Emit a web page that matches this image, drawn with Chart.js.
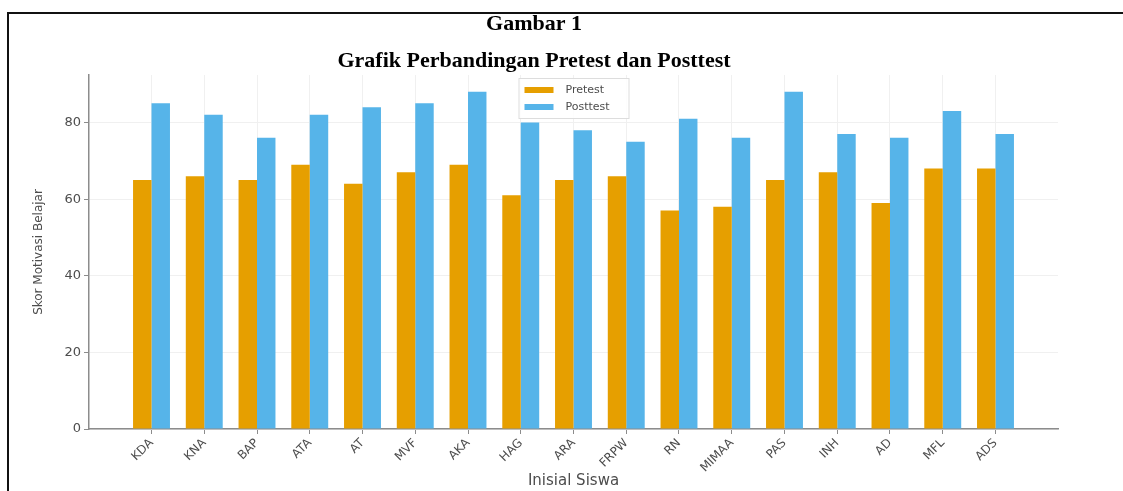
<!DOCTYPE html>
<html><head><meta charset="utf-8">
<script src="https://cdn.jsdelivr.net/npm/chart.js@4.4.1/dist/chart.umd.min.js"></script>
<style>html,body{margin:0;padding:0;background:#fff;} #wrap{width:1123px;height:491px;position:relative;} canvas{display:block;}</style>
</head><body><div id="wrap"><canvas id="c" width="1123" height="491"></canvas></div>
<script>
const titleLines = ['Gambar 1', 'Grafik Perbandingan Pretest dan Posttest'];
const categories = ['KDA','KNA','BAP','ATA','AT','MVF','AKA','HAG','ARA','FRPW','RN','MIMAA','PAS','INH','AD','MFL','ADS'];
const pretest  = [65,66,65,69,64,67,69,61,65,66,57,58,65,67,59,68,68];
const posttest = [85,82,76,82,84,85,88,80,78,75,81,76,88,77,76,83,77];
const yTicks = [0,20,40,60,80];
const seriesNames = ['Pretest','Posttest'];
const seriesColors = ['#E69F00','#56B4E9'];
const yTitle = 'Skor Motivasi Belajar';
const xTitle = 'Inisial Siswa';

const TEXT = '#4d4d4d';
const AXIS = '#8c8c8c';

const framePlugin = {
  id: 'framePlugin',
  beforeDraw(chart) {
    const ctx = chart.ctx;
    ctx.save();
    ctx.fillStyle = '#fff';
    ctx.fillRect(0, 0, chart.width, chart.height);
    ctx.strokeStyle = '#111';
    ctx.lineWidth = 2;
    ctx.beginPath();
    ctx.moveTo(8, chart.height);
    ctx.lineTo(8, 13);
    ctx.lineTo(chart.width, 13);
    ctx.stroke();
    ctx.fillStyle = '#000';
    ctx.textAlign = 'center';
    ctx.textBaseline = 'middle';
    ctx.font = 'bold 22px "Liberation Serif", "Times New Roman", serif';
    ctx.fillText(titleLines[0], 534, 24);
    ctx.fillText(titleLines[1], 534, 61);
    ctx.restore();
  }
};

const legendPlugin = {
  id: 'legendPlugin',
  afterDatasetsDraw(chart) {
    const ctx = chart.ctx;
    const ca = chart.chartArea;
    const w = 110, h = 40;
    const x = (ca.left + ca.right) / 2 - w / 2;
    const y = ca.top + 3;
    ctx.save();
    ctx.fillStyle = 'rgba(255,255,255,0.85)';
    ctx.strokeStyle = '#dddddd';
    ctx.lineWidth = 1;
    ctx.fillRect(x, y, w, h);
    ctx.strokeRect(x + 0.5, y + 0.5, w, h);
    ctx.font = '11px "DejaVu Sans", sans-serif';
    ctx.textBaseline = 'middle';
    ctx.textAlign = 'left';
    chart.data.datasets.forEach((ds, i) => {
      const cy = y + 12 + i * 17;
      ctx.fillStyle = ds.backgroundColor;
      ctx.fillRect(x + 6, cy - 3, 29, 6);
      ctx.fillStyle = TEXT;
      ctx.fillText(ds.label, x + 47, cy);
    });
    ctx.restore();
  }
};

const toPoints = arr => arr.map((v, i) => ({x: i, y: v}));

new Chart(document.getElementById('c'), {
  type: 'bar',
  data: {
    datasets: [
      {label: seriesNames[0], data: toPoints(pretest), backgroundColor: seriesColors[0], borderWidth: 0},
      {label: seriesNames[1], data: toPoints(posttest), backgroundColor: seriesColors[1], borderWidth: 0}
    ]
  },
  options: {
    responsive: false,
    animation: false,
    devicePixelRatio: 1,
    categoryPercentage: 0.7,
    barPercentage: 1.0,
    layout: {padding: {top: 75, right: 65, left: 0, bottom: 0}},
    plugins: {legend: {display: false}, title: {display: false}, tooltip: {enabled: false}},
    scales: {
      x: {
        type: 'linear',
        offset: false,
        min: -1.185,
        max: 17.185,
        afterBuildTicks(s) { s.ticks = categories.map((c, i) => ({value: i})); },
        afterFit(s) { s.height = 62; },
        ticks: {
          autoSkip: false,
          minRotation: 45,
          maxRotation: 45,
          padding: 2,
          color: TEXT,
          font: {family: '"DejaVu Sans", sans-serif', size: 12},
          callback: (v, i) => categories[i]
        },
        grid: {offset: false, color: '#f0f0f0', lineWidth: 1, tickLength: 5, tickColor: AXIS},
        border: {display: true, color: AXIS, width: 1.5},
        title: {display: true, text: xTitle, color: TEXT, font: {family: '"DejaVu Sans", sans-serif', size: 15}, padding: {top: 4, bottom: 1}}
      },
      y: {
        min: 0,
        max: 92.4,
        afterBuildTicks(s) { s.ticks = yTicks.map(v => ({value: v})); },
        afterFit(s) { s.width = 89; },
        ticks: {
          padding: 3,
          color: TEXT,
          font: {family: '"DejaVu Sans", sans-serif', size: 13}
        },
        grid: {color: '#f0f0f0', lineWidth: 1, tickLength: 5, tickColor: AXIS},
        border: {display: true, color: AXIS, width: 1.5},
        title: {display: true, text: yTitle, color: TEXT, font: {family: '"DejaVu Sans", sans-serif', size: 12}, padding: {top: 32, bottom: 0}}
      }
    }
  },
  plugins: [framePlugin, legendPlugin]
});
</script>
</body></html>
